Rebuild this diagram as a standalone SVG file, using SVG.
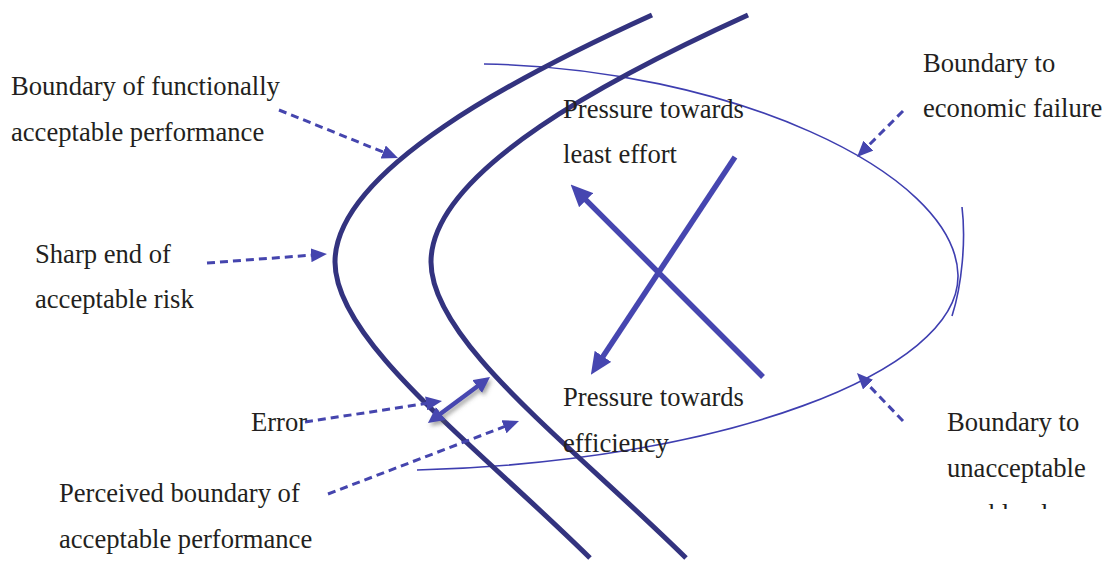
<svg xmlns="http://www.w3.org/2000/svg" width="1111" height="561" viewBox="0 0 1111 561">
<style>
.t{font-family:"Liberation Serif","Times New Roman",serif;font-size:26.6px;fill:#231f20}
.bound{fill:none;stroke:#33337f;stroke-width:5;stroke-linecap:butt}
.ell{fill:none;stroke:#3e3eb0;stroke-width:1.6}
.dash{fill:none;stroke:#4545ae;stroke-width:3;stroke-dasharray:8 5}
.solid{fill:none;stroke:#4646b0;stroke-width:5.5}
.dbl{fill:none;stroke:#4646b0;stroke-width:4.5}
</style>
<defs>
<marker id="ah" markerUnits="userSpaceOnUse" markerWidth="16" markerHeight="14" refX="8" refY="7" orient="auto"><path d="M0,0 L16,7 L0,14 z" fill="#4545ae"/></marker>
<marker id="ahx" markerUnits="userSpaceOnUse" markerWidth="22" markerHeight="20" refX="10" refY="10" orient="auto"><path d="M0,0 L22,10 L0,20 z" fill="#4646b0"/></marker>
<marker id="ahd" markerUnits="userSpaceOnUse" markerWidth="16" markerHeight="16" refX="8" refY="8" orient="auto-start-reverse"><path d="M0,0 L16,8 L0,16 z" fill="#4646b0"/></marker>
<filter id="sh" x="-30%" y="-30%" width="160%" height="160%"><feDropShadow dx="2" dy="3" stdDeviation="2" flood-color="#555" flood-opacity="0.55"/></filter>
<clipPath id="cl"><rect x="900" y="0" width="211" height="509"/></clipPath>
</defs>

<g id="boundaries">
<path id="economic-boundary" class="ell" d="M484,64 C725,68 955,170 958,275 C960,372 722,462 417,470"/>
<path id="workload-boundary" class="ell" d="M962,207 C966,240 962,285 952,316"/>
<path id="functional-boundary" class="bound" d="M652,15 C520,75 335,170 335,262 C335,340 470,440 590,558"/>
<path id="perceived-boundary" class="bound" d="M748,15 C616,75 431,170 431,262 C431,340 566,440 686,558"/>
</g>

<g id="connectors">
<path class="dash" d="M279,110 L390.6,155" marker-end="url(#ah)"/>
<path class="dash" d="M207,263 L319,254.6" marker-end="url(#ah)"/>
<path class="dash" d="M305,422 L434.1,402.2" marker-end="url(#ah)"/>
<path class="dash" d="M328,494 L511.5,423.9" marker-end="url(#ah)"/>
<path class="dash" d="M903,111 L862.7,151.3" marker-end="url(#ah)"/>
<path class="dash" d="M903,421 L862.5,378.8" marker-end="url(#ah)"/>
<path class="solid" d="M763,377 L579.1,193.1" marker-end="url(#ahx)"/>
<path class="solid" d="M735,157 L597.5,364.7" marker-end="url(#ahx)"/>
<path class="dbl" d="M434.4,418.2 L483.6,381.8" marker-start="url(#ahd)" marker-end="url(#ahd)" filter="url(#sh)"/>
</g>

<g id="label-functional"><text class="t" x="11" y="95">Boundary of functionally</text><text class="t" x="11" y="141">acceptable performance</text></g>
<g id="label-sharp"><text class="t" x="35" y="263">Sharp end of</text><text class="t" x="35" y="308">acceptable risk</text></g>
<g id="label-error"><text class="t" x="251" y="431">Error</text></g>
<g id="label-perceived"><text class="t" x="59" y="502">Perceived boundary of</text><text class="t" x="59" y="548">acceptable performance</text></g>
<g id="label-least-effort"><text class="t" x="563" y="118">Pressure towards</text><text class="t" x="563" y="163">least effort</text></g>
<g id="label-efficiency"><text class="t" x="563" y="406">Pressure towards</text><text class="t" x="563" y="452">efficiency</text></g>
<g id="label-economic"><text class="t" x="923" y="72">Boundary to</text><text class="t" x="923" y="117">economic failure</text></g>
<g id="label-workload" clip-path="url(#cl)"><text class="t" x="947" y="431">Boundary to</text><text class="t" x="947" y="477">unacceptable</text><text class="t" x="947" y="523">workload</text></g>
</svg>
